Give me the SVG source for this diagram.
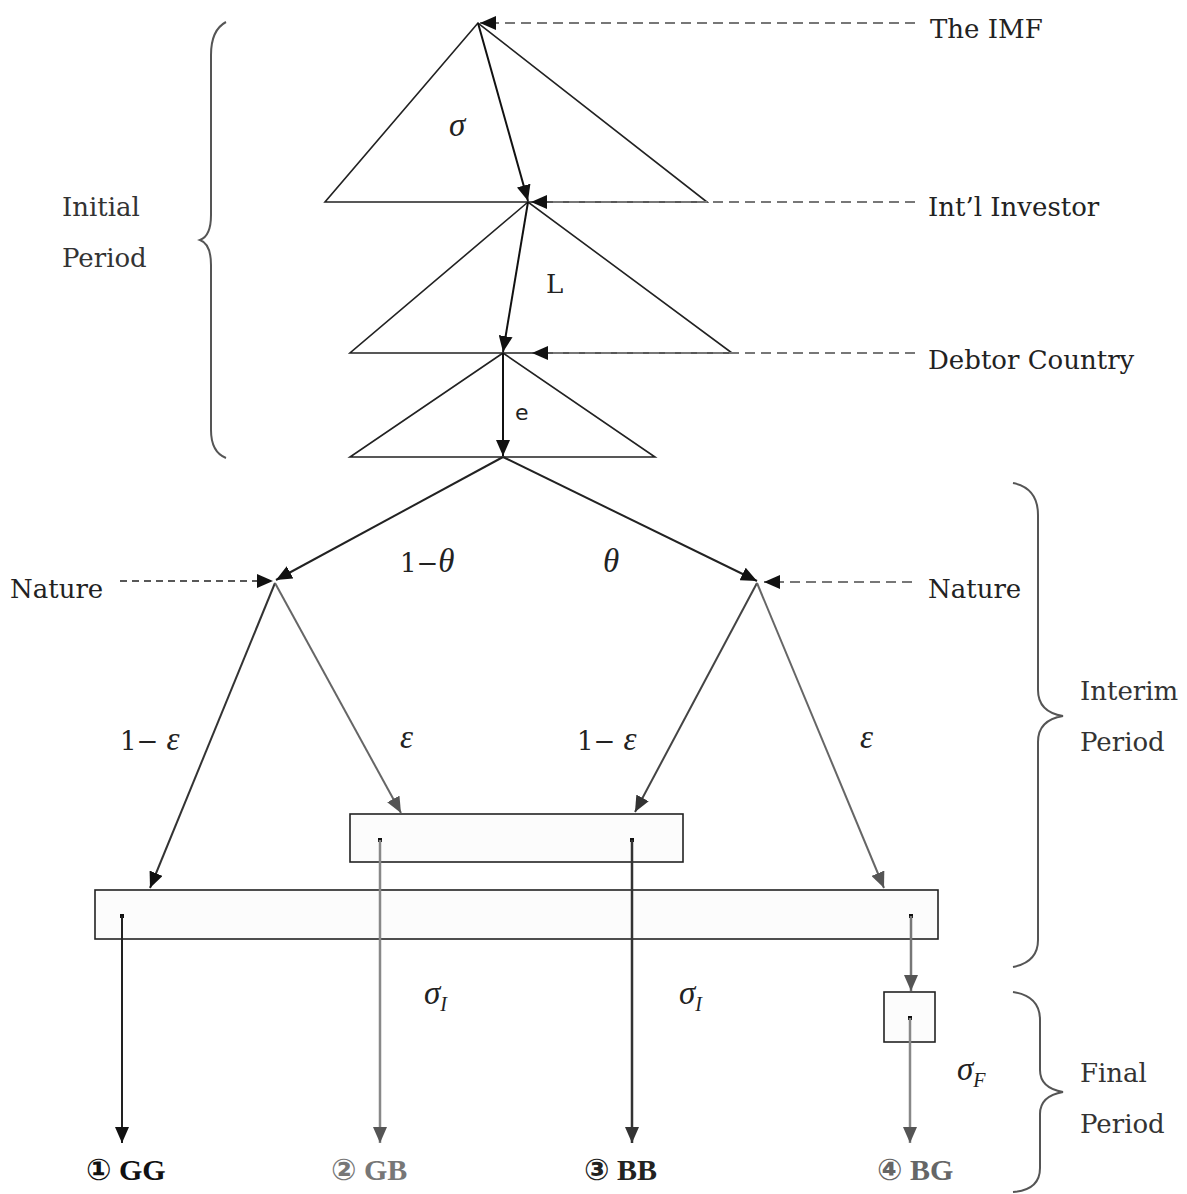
<svg xmlns="http://www.w3.org/2000/svg" width="1187" height="1194" viewBox="0 0 1187 1194">
<style>
  .t{font-family:"DejaVu Serif","Noto Sans CJK KR",serif;font-size:26px;fill:#333}
  .g{font-family:"Liberation Serif","DejaVu Serif",serif;font-style:italic;font-size:33px;fill:#222}
  .n{font-family:"DejaVu Serif",serif;font-size:26px;fill:#222}
  .out{font-family:"Liberation Serif","DejaVu Sans","Noto Sans CJK KR",serif;font-weight:bold;font-size:30px}
  .tri{fill:none;stroke:#222;stroke-width:1.6}
  .box{fill:#fcfcfc;stroke:#222;stroke-width:1.6}
  .brace{fill:none;stroke:#555;stroke-width:2}
  .dash{fill:none;stroke:#777;stroke-width:2.2;stroke-dasharray:10,6}
  .dashk{fill:none;stroke:#222;stroke-width:1.6;stroke-dasharray:7,5}
</style>
<defs>
  <marker id="aK" markerUnits="userSpaceOnUse" markerWidth="16" markerHeight="14" refX="16" refY="7" orient="auto"><path d="M0,0 L16,7 L0,14 z" fill="#111"/></marker>
  <marker id="aD" markerUnits="userSpaceOnUse" markerWidth="16" markerHeight="14" refX="16" refY="7" orient="auto"><path d="M0,0 L16,7 L0,14 z" fill="#333"/></marker>
  <marker id="aG" markerUnits="userSpaceOnUse" markerWidth="16" markerHeight="14" refX="16" refY="7" orient="auto"><path d="M0,0 L16,7 L0,14 z" fill="#555"/></marker>
</defs>
<rect width="1187" height="1194" fill="#fff"/>

<g id="triangles">
  <polygon class="tri" points="478,23 325,202 707,202"/>
  <polygon class="tri" points="528,202 350,353 732,353"/>
  <polygon class="tri" points="503,353 350,457 655,457"/>
</g>

<g id="boxes">
  <rect id="box-mid" class="box" x="350" y="814" width="333" height="48"/>
  <rect id="box-wide" class="box" x="95" y="890" width="843" height="49"/>
  <rect id="box-final" class="box" x="884" y="992" width="51" height="50"/>
  <g fill="#111">
    <rect x="378" y="838" width="4" height="4"/>
    <rect x="630" y="838" width="4" height="4"/>
    <rect x="120" y="914" width="4" height="4"/>
    <rect x="909" y="914" width="4" height="4"/>
    <rect x="908" y="1016" width="4" height="4"/>
  </g>
</g>

<g id="connectors">
  <line x1="915" y1="23" x2="480" y2="23" class="dash" marker-end="url(#aK)"/>
  <line x1="915" y1="202" x2="531" y2="202" class="dash" marker-end="url(#aK)"/>
  <line x1="915" y1="353" x2="532" y2="353" class="dash" marker-end="url(#aK)"/>
  <line x1="120" y1="581" x2="273" y2="581" class="dashk" marker-end="url(#aK)"/>
  <line x1="912" y1="582" x2="764" y2="582" class="dash" marker-end="url(#aK)"/>

  <line x1="478" y1="23" x2="528" y2="201" stroke="#111" stroke-width="2" marker-end="url(#aK)"/>
  <line x1="528" y1="202" x2="503" y2="352" stroke="#111" stroke-width="2" marker-end="url(#aK)"/>
  <line x1="503" y1="353" x2="503" y2="456" stroke="#111" stroke-width="2" marker-end="url(#aK)"/>

  <line x1="503" y1="457" x2="276" y2="580" stroke="#222" stroke-width="2" marker-end="url(#aK)"/>
  <line x1="503" y1="457" x2="757" y2="581" stroke="#222" stroke-width="2" marker-end="url(#aK)"/>

  <line x1="275" y1="583" x2="150" y2="888" stroke="#333" stroke-width="2" marker-end="url(#aK)"/>
  <line x1="275" y1="583" x2="401" y2="813" stroke="#666" stroke-width="2" marker-end="url(#aG)"/>
  <line x1="757" y1="583" x2="635" y2="812" stroke="#444" stroke-width="2" marker-end="url(#aD)"/>
  <line x1="757" y1="583" x2="884" y2="888" stroke="#666" stroke-width="2" marker-end="url(#aG)"/>

  <line x1="122" y1="916" x2="122" y2="1143" stroke="#222" stroke-width="2" marker-end="url(#aK)"/>
  <line x1="380" y1="840" x2="380" y2="1143" stroke="#888" stroke-width="2.5" marker-end="url(#aG)"/>
  <line x1="632" y1="840" x2="632" y2="1143" stroke="#333" stroke-width="2.5" marker-end="url(#aD)"/>
  <line x1="911" y1="916" x2="911" y2="991" stroke="#777" stroke-width="2.5" marker-end="url(#aG)"/>
  <line x1="910" y1="1018" x2="910" y2="1143" stroke="#888" stroke-width="2.5" marker-end="url(#aG)"/>
</g>

<g id="braces">
  <path class="brace" d="M226,22 Q211,30 211,55 L211,215 Q211,236 200,240 Q211,244 211,265 L211,430 Q211,452 226,458"/>
  <path class="brace" d="M1013,483 Q1038,488 1038,515 L1038,690 Q1038,712 1063,716 Q1038,720 1038,742 L1038,940 Q1038,962 1013,967"/>
  <path class="brace" d="M1013,992 Q1040,996 1040,1020 L1040,1070 Q1040,1088 1063,1092 Q1040,1096 1040,1114 L1040,1168 Q1040,1190 1013,1192"/>
</g>

<g id="labels">
  <text class="n" x="930" y="38">The IMF</text>
  <text class="n" x="928" y="216">Int’l Investor</text>
  <text class="n" x="928" y="369">Debtor Country</text>
  <text class="n" x="10" y="598">Nature</text>
  <text class="n" x="928" y="598">Nature</text>
  <text class="t" x="62" y="216">Initial</text>
  <text class="t" x="62" y="267">Period</text>
  <text class="t" x="1080" y="700">Interim</text>
  <text class="t" x="1080" y="751">Period</text>
  <text class="t" x="1080" y="1082">Final</text>
  <text class="t" x="1080" y="1133">Period</text>

  <text class="g" x="449" y="136">σ</text>
  <text class="n" x="546" y="293">L</text>
  <text x="515" y="420" font-family="DejaVu Sans,sans-serif" font-size="22" fill="#222">e</text>
  <text class="n" x="400" y="572">1−<tspan class="g">θ</tspan></text>
  <text class="g" x="603" y="572">θ</text>
  <text class="n" x="120" y="750">1− <tspan class="g">ε</tspan></text>
  <text class="g" x="400" y="748">ε</text>
  <text class="n" x="577" y="750">1− <tspan class="g">ε</tspan></text>
  <text class="g" x="860" y="748">ε</text>
  <text class="g" x="424" y="1004">σ<tspan font-size="20" dy="7">I</tspan></text>
  <text class="g" x="679" y="1004">σ<tspan font-size="20" dy="7">I</tspan></text>
  <text class="g" x="957" y="1080">σ<tspan font-size="20" dy="7">F</tspan></text>

  <text class="out" x="86" y="1180" fill="#111">① GG</text>
  <text class="out" x="331" y="1180" fill="#777">② GB</text>
  <text class="out" x="584" y="1180" fill="#222">③ BB</text>
  <text class="out" x="877" y="1180" fill="#666">④ BG</text>
</g>
</svg>
